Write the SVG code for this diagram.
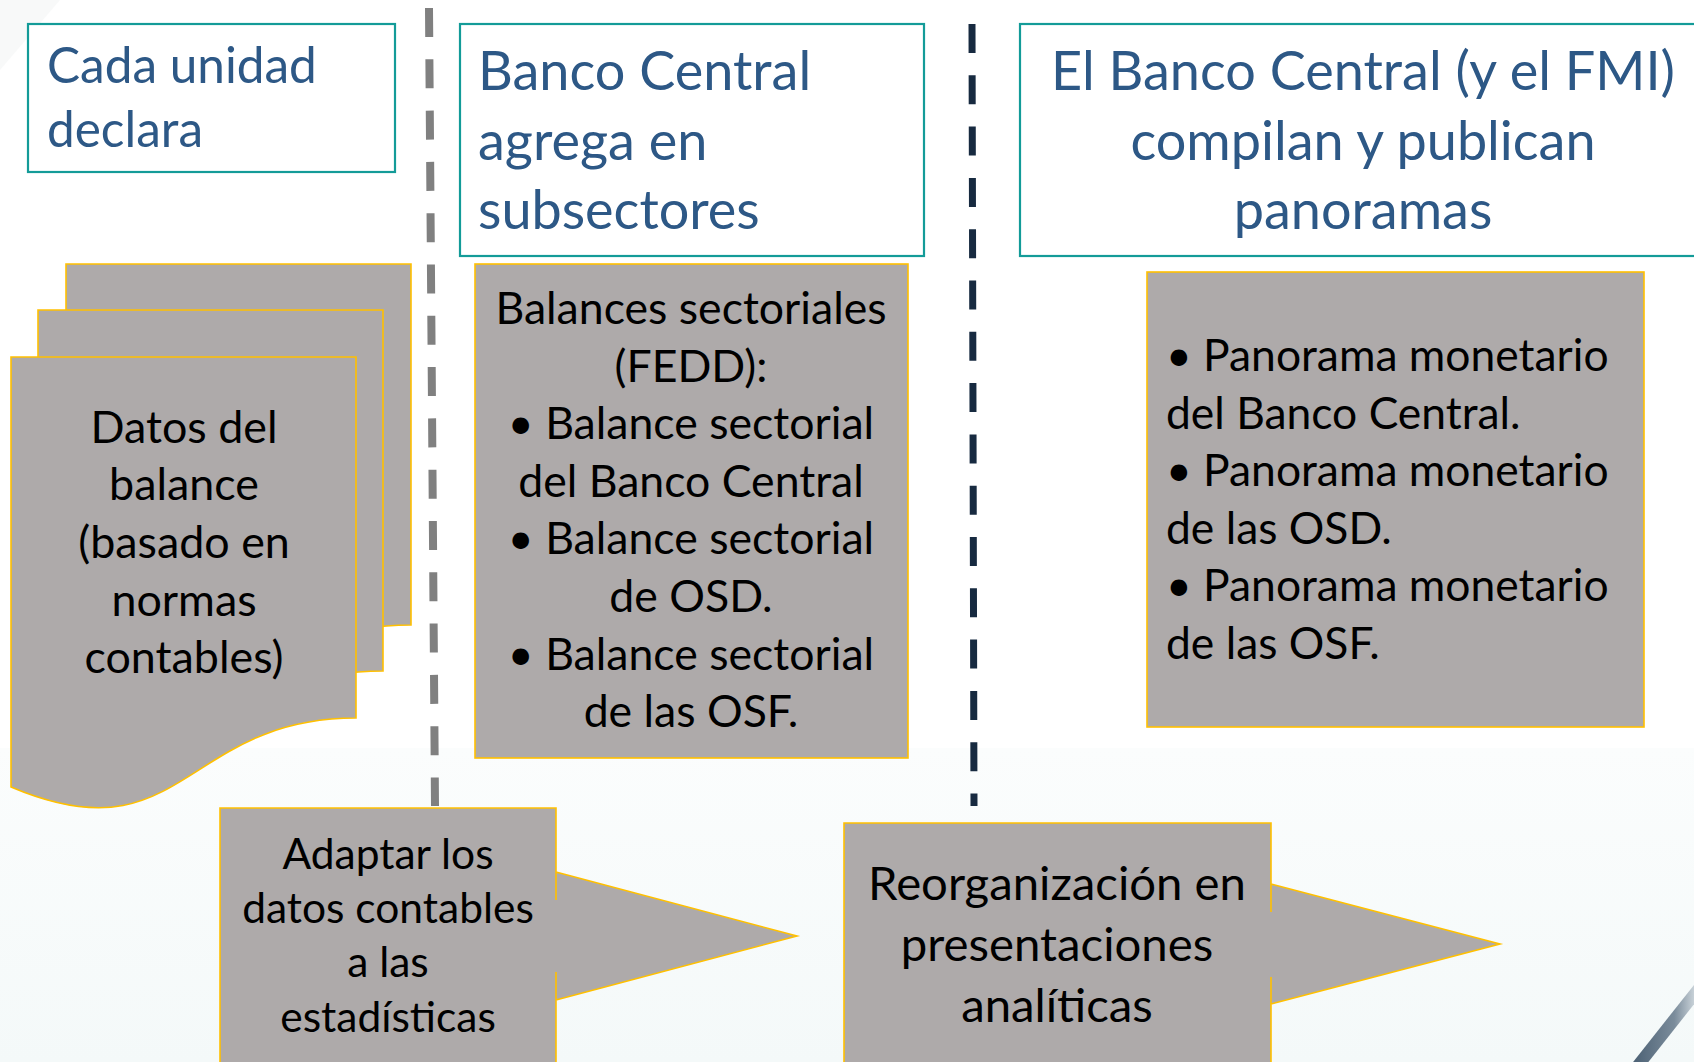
<svg xmlns="http://www.w3.org/2000/svg" width="1694" height="1062" viewBox="0 0 1694 1062">
<defs>
<style>
.hdr{fill:#fff;stroke:#139B98;stroke-width:2.2}
.ht{font-family:Lato,"Liberation Sans",sans-serif;fill:#2D5886}
.gb{fill:#AEAAAA;stroke:#FFC000;stroke-width:1.6}
.bt{font-family:Lato,"Liberation Sans",sans-serif;fill:#000}
.mid{text-anchor:middle}
</style>
<linearGradient id="bgb" x1="0" y1="0" x2="0" y2="1">
<stop offset="0" stop-color="#fbfdfd"/>
<stop offset="1" stop-color="#f4f9f9"/>
</linearGradient>
<linearGradient id="bar" x1="0" y1="0" x2="1" y2="0">
<stop offset="0" stop-color="#4f6477"/>
<stop offset="0.6" stop-color="#7b8c9b"/>
<stop offset="1" stop-color="#dfe6ea"/>
</linearGradient>
<path id="doc" d="M0,0 H345 V361 C172,361 172,503 0,430 Z"/>
</defs>
<rect width="1694" height="1062" fill="#fff"/>
<rect y="748" width="1694" height="314" fill="url(#bgb)"/>
<polygon points="0,0 60,0 0,70" fill="#f3f5f5" opacity="0.6"/>
<line x1="1700" y1="987" x2="1636" y2="1068" stroke="url(#bar)" stroke-width="12"/>

<g id="connectors">
<line x1="429" y1="8" x2="435" y2="806" stroke="#808080" stroke-width="8" stroke-dasharray="29 22.3"/>
<line x1="972" y1="24" x2="974" y2="806" stroke="#172A40" stroke-width="7" stroke-dasharray="29 22.3"/>
</g>

<g id="hdr-cada">
<rect class="hdr" x="28" y="24" width="367" height="148"/>
<text class="ht" font-size="49.5"><tspan x="47" y="83">Cada unidad</tspan><tspan x="47" y="147">declara</tspan></text>
</g>

<g id="hdr-banco">
<rect class="hdr" x="460" y="24" width="464" height="232"/>
<text class="ht" font-size="54"><tspan x="478" y="90">Banco Central</tspan><tspan x="478" y="160">agrega en</tspan><tspan x="478" y="229">subsectores</tspan></text>
</g>

<g id="hdr-fmi">
<rect class="hdr" x="1020" y="24" width="700" height="232"/>
<text class="ht mid" font-size="54"><tspan x="1363" y="90">El Banco Central (y el FMI)</tspan><tspan x="1363" y="160">compilan y publican</tspan><tspan x="1363" y="229">panoramas</tspan></text>
</g>

<g id="datos-balance">
<use href="#doc" class="gb" transform="translate(66,264)"/>
<use href="#doc" class="gb" transform="translate(38,310)"/>
<use href="#doc" class="gb" transform="translate(11,357)"/>
<text class="bt mid" font-size="44.8"><tspan x="184" y="443">Datos del</tspan><tspan x="184" y="500">balance</tspan><tspan x="184" y="558">(basado en</tspan><tspan x="184" y="616">normas</tspan><tspan x="184" y="673">contables)</tspan></text>
</g>

<g id="balances-sectoriales">
<rect class="gb" x="475" y="264" width="433" height="494"/>
<text class="bt mid" font-size="44.6"><tspan x="691" y="324">Balances sectoriales</tspan><tspan x="691" y="381.6">(FEDD):</tspan><tspan x="691" y="439.2">• Balance sectorial</tspan><tspan x="691" y="496.8">del Banco Central</tspan><tspan x="691" y="554.4">• Balance sectorial</tspan><tspan x="691" y="612">de OSD.</tspan><tspan x="691" y="669.6">• Balance sectorial</tspan><tspan x="691" y="727.2">de las OSF.</tspan></text>
</g>

<g id="panoramas">
<rect class="gb" x="1147" y="272" width="497" height="455"/>
<text class="bt" font-size="44.4"><tspan x="1166" y="370.6">• Panorama monetario</tspan><tspan x="1166" y="428.6">del Banco Central.</tspan><tspan x="1166" y="486.2">• Panorama monetario</tspan><tspan x="1166" y="543.8">de las OSD.</tspan><tspan x="1166" y="601.4">• Panorama monetario</tspan><tspan x="1166" y="659">de las OSF.</tspan></text>
</g>

<g id="adaptar">
<path class="gb" d="M220,808 H556 V900 V872 L797,936 L556,1000 V972 V1075 H220 Z"/>
<text class="bt mid" font-size="42.5"><tspan x="388" y="869">Adaptar los</tspan><tspan x="388" y="923">datos contables</tspan><tspan x="388" y="977">a las</tspan><tspan x="388" y="1032">estadísticas</tspan></text>
</g>

<g id="reorganizacion">
<path class="gb" d="M844,823 H1271 V912 V884 L1500,944 L1271,1004 V977 V1075 H844 Z"/>
<text class="bt mid" font-size="47.3"><tspan x="1057" y="900">Reorganización en</tspan><tspan x="1057" y="961">presentaciones</tspan><tspan x="1057" y="1022">analíticas</tspan></text>
</g>
</svg>
